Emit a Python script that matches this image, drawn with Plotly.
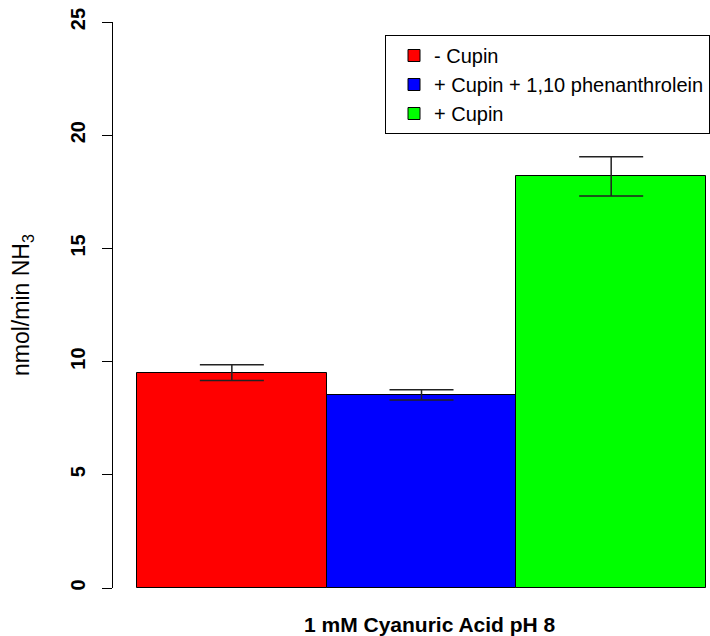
import plotly.graph_objects as go

category = ["1 mM Cyanuric Acid pH 8"]
series_names = ["- Cupin", "+ Cupin + 1,10 phenanthrolein", "+ Cupin"]
series_values = [9.51, 8.53, 18.18]
series_errors = [0.35, 0.23, 0.87]
series_colors = ["#FF0000", "#0000FF", "#00FF00"]
y_ticks = [0, 5, 10, 15, 20, 25]

FONT = "Liberation Sans, Arial, sans-serif"

fig = go.Figure()
for name, val, err, col in zip(series_names, series_values, series_errors, series_colors):
    fig.add_trace(go.Bar(
        x=category, y=[val], name=name,
        marker=dict(color=col, line=dict(color="black", width=1)),
        error_y=dict(type="data", array=[err], visible=True, color="#222222",
                     thickness=1.5, width=32),
    ))

W, H = 710, 636
L, R, T, B = 113, 0, 22, 48
pw, ph = W - L - R, H - T - B

def px_x(p):
    return (p - L) / pw

def px_y(p):
    return (H - B - p) / ph

fig.update_layout(
    width=W, height=H,
    margin=dict(l=L, r=R, t=T, b=B, pad=0),
    paper_bgcolor="white", plot_bgcolor="white",
    barmode="group", bargap=0, bargroupgap=0,
    font=dict(family=FONT, color="black"),
    xaxis=dict(range=[-0.5422, 0.507], showticklabels=False, showline=False,
               ticks="", showgrid=False, zeroline=False),
    yaxis=dict(range=[0, 25], tickvals=y_ticks, ticks="outside", ticklen=10,
               tickwidth=1, tickcolor="black", showline=True, linecolor="black",
               linewidth=1, showgrid=False, zeroline=False, tickangle=-90,
               ticklabelstandoff=9,
               tickfont=dict(family=FONT, size=20, weight="bold", color="black")),
    legend=dict(x=px_x(385), y=px_y(35), xanchor="left", yanchor="top",
                bordercolor="black", borderwidth=1, bgcolor="white",
                font=dict(family=FONT, size=20, color="black"),
                indentation=8, traceorder="normal"),
    annotations=[
        dict(text="1 mM Cyanuric Acid pH 8", x=px_x(430), y=px_y(624),
             xref="paper", yref="paper", xanchor="center", yanchor="middle",
             showarrow=False, font=dict(family=FONT, size=21, weight="bold")),
        dict(text="nmol/min NH<sub>3</sub>", x=px_x(22), y=px_y(305),
             xref="paper", yref="paper", xanchor="center", yanchor="middle",
             textangle=-90, showarrow=False, font=dict(family=FONT, size=23)),
    ],
)

fig.write_html("out.html", config={"displayModeBar": False},
               post_script="document.body.style.margin='0';document.body.style.overflow='hidden';")
